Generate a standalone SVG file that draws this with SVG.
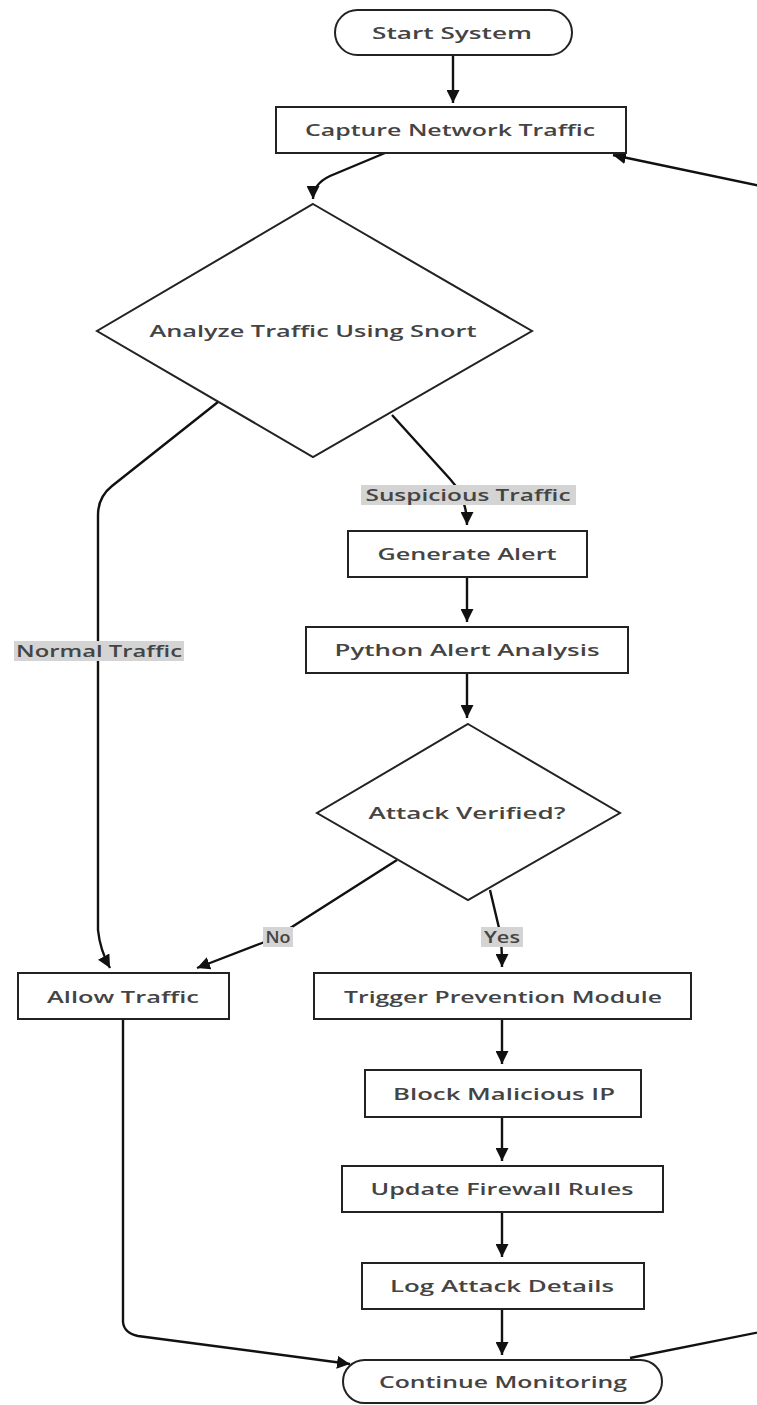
<svg xmlns="http://www.w3.org/2000/svg" width="757" height="1405" viewBox="0 0 757 1405">
<style>
.box{fill:#fff;stroke:#222;stroke-width:2}
.lbl{font-family:"Open Sans","DejaVu Sans",sans-serif;font-weight:600;font-size:16px;fill:#444;text-anchor:middle;dominant-baseline:central;font-variant-ligatures:none}
.edge{fill:none;stroke:#111;stroke-width:2.4}
.ebg{fill:#d4d4d4}
</style>
<defs>
<marker id="arr" viewBox="0 0 10 10" refX="10" refY="5" markerUnits="userSpaceOnUse" markerWidth="13" markerHeight="13" orient="auto">
<path d="M0,0 L10,5 L0,10 z" fill="#111"/>
</marker>
</defs>
<rect width="757" height="1405" fill="#fff"/>
<g id="connectors">
<path class="edge" d="M453,55 L453,103" marker-end="url(#arr)"/>
<path class="edge" d="M385,153 L330,176 Q313,184 313,199" marker-end="url(#arr)"/>
<path class="edge" d="M218,402 L112,486 Q98,497 98,515 L98,930 Q100,950 110,968" marker-end="url(#arr)"/>
<path class="edge" d="M392,415 L450,479 Q467,497 467,525" marker-end="url(#arr)"/>
<path class="edge" d="M467,577 L467,622" marker-end="url(#arr)"/>
<path class="edge" d="M467,673 L467,718" marker-end="url(#arr)"/>
<path class="edge" d="M397,860 L295,925 Q280,935 262,943 L197,968" marker-end="url(#arr)"/>
<path class="edge" d="M490,890 L499,928 Q502,940 502,967" marker-end="url(#arr)"/>
<path class="edge" d="M123,1019 L123,1322 Q124,1333 138,1336 L350,1364" marker-end="url(#arr)"/>
<path class="edge" d="M502,1019 L502,1064" marker-end="url(#arr)"/>
<path class="edge" d="M502,1117 L502,1161" marker-end="url(#arr)"/>
<path class="edge" d="M502,1212 L502,1257" marker-end="url(#arr)"/>
<path class="edge" d="M502,1309 L502,1355" marker-end="url(#arr)"/>
<path class="edge" d="M630,1358 L770,1330 Q800,1322 800,1290 L800,220 Q800,195 770,188 L613,155" marker-end="url(#arr)"/>
<rect class="ebg" x="14" y="641" width="170" height="20"/>
<text class="lbl" x="99" y="651" textLength="166" lengthAdjust="spacingAndGlyphs">Normal Traffic</text>
<rect class="ebg" x="361" y="485" width="215" height="20"/>
<text class="lbl" x="468" y="495" textLength="205" lengthAdjust="spacingAndGlyphs">Suspicious Traffic</text>
<rect class="ebg" x="263" y="927" width="30" height="20"/>
<text class="lbl" x="278" y="937" textLength="25" lengthAdjust="spacingAndGlyphs">No</text>
<rect class="ebg" x="481" y="927" width="42" height="20"/>
<text class="lbl" x="502" y="937" textLength="36" lengthAdjust="spacingAndGlyphs">Yes</text>
</g>
<g id="start">
<rect class="box" x="335" y="10" width="237" height="45" rx="22.5"/>
<text class="lbl" x="452" y="33" textLength="160" lengthAdjust="spacingAndGlyphs">Start System</text>
</g>
<g id="capture">
<rect class="box" x="276" y="107" width="350" height="46"/>
<text class="lbl" x="450" y="130" textLength="290" lengthAdjust="spacingAndGlyphs">Capture Network Traffic</text>
</g>
<g id="analyze">
<polygon class="box" points="313,204 532,331 313,457 97,331"/>
<text class="lbl" x="313" y="331" textLength="327" lengthAdjust="spacingAndGlyphs">Analyze Traffic Using Snort</text>
</g>
<g id="generate">
<rect class="box" x="348" y="531" width="239" height="46"/>
<text class="lbl" x="467" y="554" textLength="179" lengthAdjust="spacingAndGlyphs">Generate Alert</text>
</g>
<g id="python">
<rect class="box" x="306" y="627" width="322" height="46"/>
<text class="lbl" x="467" y="650" textLength="265" lengthAdjust="spacingAndGlyphs">Python Alert Analysis</text>
</g>
<g id="verified">
<polygon class="box" points="468,724 620,813 468,900 317,813"/>
<text class="lbl" x="467" y="813" textLength="197" lengthAdjust="spacingAndGlyphs">Attack Verified?</text>
</g>
<g id="allow">
<rect class="box" x="18" y="973" width="211" height="46"/>
<text class="lbl" x="123" y="997" textLength="152" lengthAdjust="spacingAndGlyphs">Allow Traffic</text>
</g>
<g id="trigger">
<rect class="box" x="314" y="973" width="377" height="46"/>
<text class="lbl" x="503" y="997" textLength="318" lengthAdjust="spacingAndGlyphs">Trigger Prevention Module</text>
</g>
<g id="block">
<rect class="box" x="365" y="1070" width="276" height="47"/>
<text class="lbl" x="504" y="1094" textLength="222" lengthAdjust="spacingAndGlyphs">Block Malicious IP</text>
</g>
<g id="update">
<rect class="box" x="342" y="1166" width="321" height="46"/>
<text class="lbl" x="502" y="1189" textLength="263" lengthAdjust="spacingAndGlyphs">Update Firewall Rules</text>
</g>
<g id="log">
<rect class="box" x="362" y="1263" width="282" height="46"/>
<text class="lbl" x="502" y="1286" textLength="224" lengthAdjust="spacingAndGlyphs">Log Attack Details</text>
</g>
<g id="continue">
<rect class="box" x="343" y="1360" width="319" height="43" rx="21.5"/>
<text class="lbl" x="503" y="1382" textLength="248" lengthAdjust="spacingAndGlyphs">Continue Monitoring</text>
</g>
</svg>
